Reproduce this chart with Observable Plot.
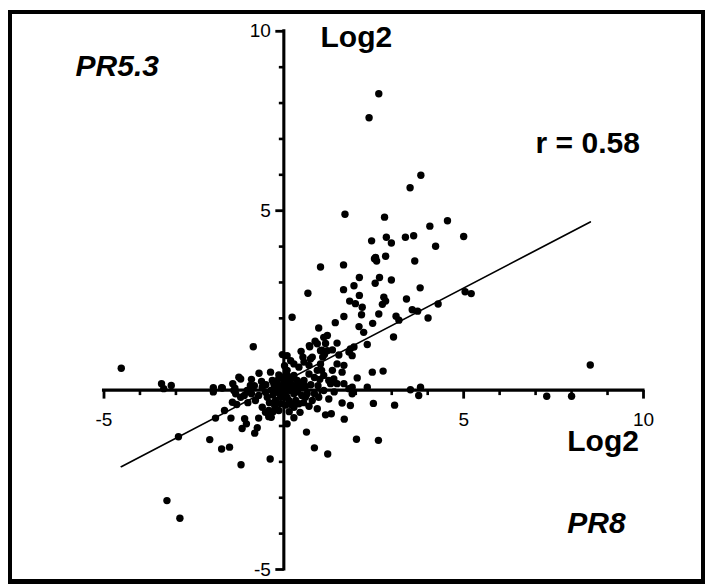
<!DOCTYPE html>
<html><head><meta charset="utf-8">
<script src="https://cdn.jsdelivr.net/npm/d3@7"></script>
<script src="https://cdn.jsdelivr.net/npm/@observablehq/plot@0.6"></script>
<style>
html,body{margin:0;padding:0;background:#fff;}
#wrap{position:relative;width:708px;height:584px;overflow:hidden;}
#chart svg{display:block;}
#frame{position:absolute;left:8px;top:10px;width:697px;height:574px;box-sizing:border-box;border:4px solid #000;border-bottom-width:5px;pointer-events:none;}
</style></head><body>
<div id="wrap"><div id="chart"></div><div id="frame"></div></div>
<script>
// Axis extent and ticks
const axisFrom = -5, axisTo = 10;
const majorTicks = [-5, 5, 10];
const majorTickLabels = ["-5", "5", "10"];
const minorTicks = [-4, -3, -2, -1, 1, 2, 3, 4, 6, 7, 8, 9];

// Regression fit (r = 0.58)
const fitSlope = 0.523, fitIntercept = 0.23;

// Points [PR8 log2, PR5.3 log2]
const upperPoints = [
 [2.64,8.26],[2.37,7.59],[3.81,5.99],[3.51,5.64],[1.70,4.90],[2.80,4.82],[4.55,4.72],[4.06,4.57],[5.00,4.28],
 [2.44,4.16],[2.85,4.26],[2.99,4.10],[3.38,4.26],[3.61,4.30],[4.22,4.01],[3.64,3.60],[2.83,3.73],[2.52,3.66],
 [2.58,3.60],[2.55,3.70],[1.02,3.43],[1.66,3.49],[2.10,3.14],[1.95,2.91],[2.66,3.14],[2.99,3.07],[2.54,2.98],
 [3.79,2.85],[0.67,2.70],[1.66,2.80],[2.10,2.64],[1.83,2.48],[1.99,2.41],[2.18,2.31],[2.78,2.59],[2.74,2.39],
 [2.83,2.48],[3.41,2.54],[5.04,2.74],[5.21,2.69],[4.29,2.40],[3.57,2.24],[3.72,2.20],[4.01,2.01],[2.64,2.12],
 [0.23,2.03],[1.67,2.05],[2.16,2.10],[1.43,1.88],[2.47,1.86],[3.12,2.06],[3.20,1.95],[0.97,1.73],[2.09,1.77],
 [2.22,1.61],[3.05,1.48],[1.21,1.52],[0.87,1.36],[1.16,1.30],[0.72,1.21],[1.48,1.31],[1.35,1.12],[1.06,1.11],
 [2.32,1.27],[1.85,1.15],[1.95,1.20],[1.90,0.96],[1.81,1.06],[-0.85,1.21],[-0.04,0.99],[0.09,0.96],[0.48,1.08],
 [0.53,0.92],[1.08,0.92],[1.53,0.98],[0.93,1.29],[1.11,1.47],[1.67,0.69],[1.62,0.50],[2.46,0.50],[2.76,0.53],
 [2.04,0.34],[1.39,0.31],[1.30,0.18],[1.67,0.18],[1.90,0.08],[2.32,0.08],[3.52,0.01],[3.80,0.08],[3.75,-0.15]
];
const outerPoints = [
 [-4.52,0.61],[8.52,0.70],[-3.40,0.18],[-3.34,0.04],[-3.13,0.13],[-1.96,0.07],[-1.96,-0.05],[-1.73,0.07],
 [-0.69,0.47],[-1.42,0.18],[-1.36,0.05],[7.31,-0.17],[8.00,-0.17],[2.49,-0.37],[3.08,-0.42],[1.62,-0.36],
 [1.85,-0.43],[1.68,-0.81],[1.16,-0.69],[1.32,-0.66],[-1.90,-0.78],[-1.65,-0.57],[-1.47,-0.78],[-1.09,-0.80],
 [-1.04,-0.94],[-1.16,-1.07],[-0.81,-1.20],[-0.70,-0.78],[-0.35,-0.76],[-0.30,-0.60],[0.09,-0.94],[0.28,-0.77],
 [0.63,-1.17],[-2.93,-1.30],[-2.06,-1.38],[-1.73,-1.64],[-1.51,-1.59],[-1.19,-2.08],[-0.38,-1.92],[0.85,-1.61],
 [1.22,-1.78],[2.02,-1.37],[2.63,-1.40],[-3.25,-3.08],[-2.89,-3.57],[0.93,-0.52]
];
const corePoints = [
 [-1.71,0.06],[-1.20,0.31],[-1.39,-0.01],[-1.34,-0.10],[-1.20,-0.20],[-1.02,-0.01],[-0.93,0.13],[-0.79,-0.29],
 [-0.90,-0.10],[-0.60,0.08],[-0.51,-0.06],[-0.46,-0.20],[-0.60,-0.48],[-0.42,-0.57],[-0.37,0.50],[-0.32,0.27],
 [-0.28,0.18],[-0.18,0.27],[-0.18,-0.06],[-0.09,-0.20],[-0.23,-0.29],[-0.09,-0.38],[-0.14,-0.57],[0.09,0.27],
 [0.19,0.18],[0.19,-0.01],[0.28,-0.10],[0.09,-0.20],[0.14,-0.29],[0.33,-0.29],[0.28,-0.48],[0.42,-0.38],
 [0.45,-0.62],[0.42,0.64],[0.56,0.78],[0.70,0.69],[0.79,0.92],[0.93,0.55],[1.02,0.73],[1.21,1.10],[1.11,0.41],
 [1.25,0.27],[1.35,0.55],[1.48,0.73],[1.48,0.18],[1.81,0.04],[1.90,-0.10],[1.11,-0.01],[0.97,-0.20],[0.65,-0.10],
 [0.79,-0.29],[0.46,0.08],[0.56,0.27],[0.37,0.27],[0.28,0.41],[0.09,0.55],[-0.04,0.36],[0.19,0.82],[0.28,0.73],
 [0.71,1.24],[-0.42,-0.74],[-0.51,-0.62],[-1.31,-0.40],[-1.43,-0.34],[-1.25,0.36],[1.02,1.10],[1.13,0.99],
 [0.74,0.87],[-0.74,-1.05],
 [-0.05,0.12],[0.04,-0.06],[-0.12,0.02],[0.00,0.22],[0.12,0.08],[-0.26,0.06],[0.32,0.12],[-0.30,-0.14],
 [0.05,-0.42],[-0.02,-0.15],[0.22,0.32],[-0.14,0.42],[0.02,0.68],[-0.62,0.24],[-0.82,0.12],[0.50,-0.15],
 [0.60,0.10],[0.75,0.15],[0.85,0.35],[-0.40,-0.35],[-0.70,-0.15],[-1.00,-0.35],[0.15,-0.60],[0.55,-0.35],
 [0.70,0.45],[1.00,0.30],[1.25,-0.25],[1.40,-0.05],[0.95,0.12],
 [0.15,0.00],[-0.08,-0.08],[0.25,0.05],[-0.20,0.12],[0.38,-0.05],[0.10,0.40],[-0.35,0.00],[0.45,0.20],
 [-0.50,0.15],[0.60,-0.20],[-0.25,-0.45],[0.20,-0.40],[0.85,-0.10],[0.70,-0.45],[1.05,0.55],[-0.90,0.30],[-1.10,-0.15]
];

// Annotation texts and their anchor positions (data units)
const annotations = [
  {text: "PR5.3", x: -5.79, y: 8.75, italic: true},
  {text: "Log2", x: 1.02, y: 9.55, italic: false},
  {text: "r = 0.58", x: 7.0, y: 6.61, italic: false},
  {text: "Log2", x: 7.88, y: -1.71, italic: false},
  {text: "PR8", x: 7.88, y: -3.97, italic: true}
];

const allPoints = [...upperPoints, ...outerPoints, ...corePoints];
const xExtent = d3.extent(allPoints, d => d[0]);
const fitLine = xExtent.map(x => ({x, y: fitIntercept + fitSlope * x}));

const tickDown = len => ({draw(ctx) { ctx.moveTo(0, 0); ctx.lineTo(0, len); }});
const tickLeft = len => ({draw(ctx) { ctx.moveTo(0, 0); ctx.lineTo(-len, 0); }});

const font = "'Liberation Sans', Arial, Helvetica, sans-serif";

const chart = Plot.plot({
  width: 708, height: 584,
  marginLeft: 103.5, marginRight: 65, marginTop: 30.8, marginBottom: 15,
  x: {type: "linear", domain: [axisFrom, axisTo], axis: null},
  y: {type: "linear", domain: [axisFrom, axisTo], axis: null},
  style: {fontFamily: font, background: "transparent", overflow: "visible"},
  marks: [
    Plot.ruleY([0], {x1: axisFrom, x2: axisTo, stroke: "black", strokeWidth: 3.1, strokeLinecap: "square"}),
    Plot.ruleX([0], {y1: axisFrom, y2: axisTo, stroke: "black", strokeWidth: 3.1, strokeLinecap: "square"}),
    Plot.dot(majorTicks, {x: d => d, y: 0, symbol: tickDown(8.5), r: 4, stroke: "black", strokeWidth: 2.8, fill: "none"}),
    Plot.dot(minorTicks, {x: d => d, y: 0, symbol: tickDown(5), r: 4, stroke: "black", strokeWidth: 2.6, fill: "none"}),
    Plot.dot(majorTicks, {x: 0, y: d => d, symbol: tickLeft(8.5), r: 4, stroke: "black", strokeWidth: 2.8, fill: "none"}),
    Plot.dot(minorTicks, {x: 0, y: d => d, symbol: tickLeft(5), r: 4, stroke: "black", strokeWidth: 2.6, fill: "none"}),
    Plot.text(majorTicks, {x: d => d, y: 0, text: (d, i) => majorTickLabels[i], lineAnchor: "top", dy: 22, fontSize: 19, fill: "black"}),
    Plot.text(majorTicks, {x: 0, y: d => d, text: (d, i) => majorTickLabels[i], textAnchor: "end", dx: -13, fontSize: 19, fill: "black"}),
    Plot.line(fitLine, {x: "x", y: "y", stroke: "black", strokeWidth: 1.7}),
    Plot.dot(allPoints, {x: d => d[0], y: d => d[1], r: 3.7, fill: "black", stroke: "none"}),
    Plot.text(annotations.filter(d => d.italic), {x: "x", y: "y", text: "text", textAnchor: "start", lineAnchor: "bottom", fontSize: 30, fontWeight: "bold", fontStyle: "italic", fill: "black"}),
    Plot.text(annotations.filter(d => !d.italic), {x: "x", y: "y", text: "text", textAnchor: "start", lineAnchor: "bottom", fontSize: 30, fontWeight: "bold", fill: "black"})
  ]
});
document.getElementById("chart").append(chart);
</script>
</body></html>
